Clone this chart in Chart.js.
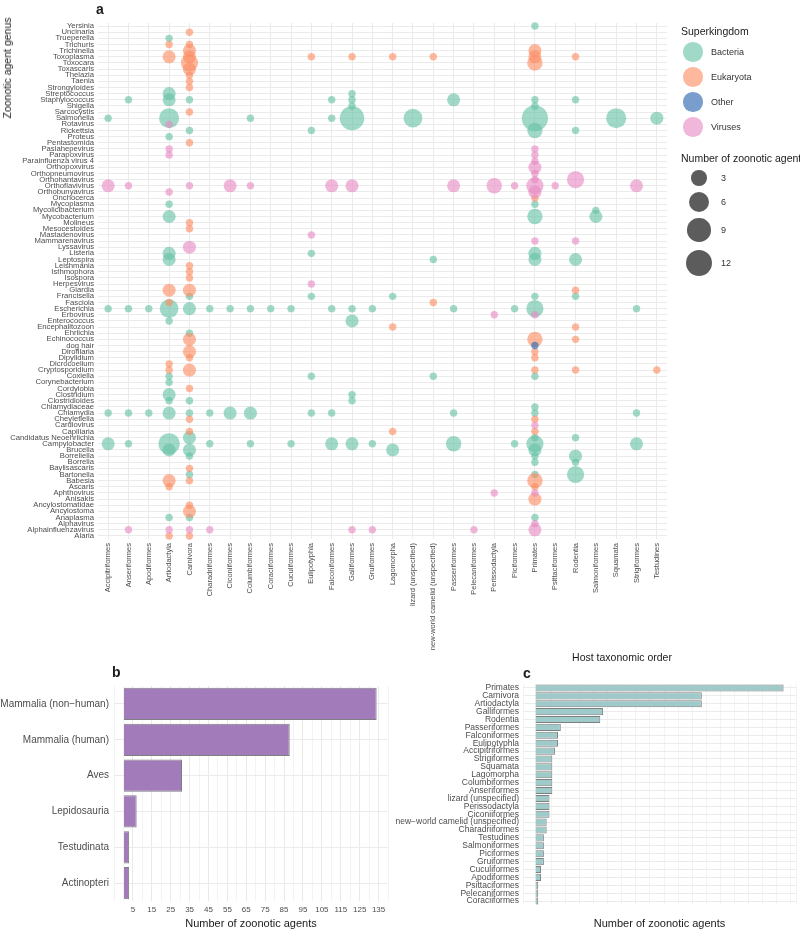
<!DOCTYPE html>
<html>
<head>
<meta charset="utf-8">
<script src="https://cdn.jsdelivr.net/npm/chart.js@4.4.1/dist/chart.umd.min.js"></script>
<style>
  body { margin: 0; background: #fff; font-family: "Liberation Sans", Arial, sans-serif; }
  #page { position: relative; width: 800px; height: 931px; overflow: hidden; }
  canvas { position: absolute; }
  #bubbles { left: 0px; top: 0px; }
  #classes { left: 0px; top: 640px; }
  #orders { left: 370px; top: 640px; }
  .txt { position: absolute; white-space: nowrap; color: #1a1a1a; }
  .dot { position: absolute; border-radius: 50%; }
</style>
</head>
<body>
<div id="page">
  <canvas id="bubbles" width="800" height="670"></canvas>
  <canvas id="classes" width="400" height="291"></canvas>
  <canvas id="orders" width="430" height="291"></canvas>
</div>
<script>
// ---- panel a ----
const genera = ["Yersinia", "Uncinaria", "Trueperella", "Trichuris", "Trichinella", "Toxoplasma", "Toxocara",
  "Toxascaris", "Thelazia", "Taenia", "Strongyloides", "Streptococcus", "Staphylococcus", "Shigella", "Sarcocystis",
  "Salmonella", "Rotavirus", "Rickettsia", "Proteus", "Pentastomida", "Paslahepevirus", "Parapoxvirus",
  "Parainfluenza virus 4", "Orthopoxvirus", "Orthopneumovirus", "Orthohantavirus", "Orthoflavivirus",
  "Orthobunyavirus", "Onchocerca", "Mycoplasma", "Mycolicibacterium", "Mycobacterium", "Molineus", "Mesocestoides",
  "Mastadenovirus", "Mammarenavirus", "Lyssavirus", "Listeria", "Leptospira", "Leishmania", "Isthmophora",
  "Isospora", "Herpesvirus", "Giardia", "Francisella", "Fasciola", "Escherichia", "Erbovirus", "Enterococcus",
  "Encephalitozoon", "Ehrlichia", "Echinococcus", "dog hair", "Dirofilaria", "Dipylidium", "Dicrocoelium",
  "Cryptosporidium", "Coxiella", "Corynebacterium", "Cordylobia", "Clostridium", "Clostridioides", "Chlamydiaceae",
  "Chlamydia", "Cheyletiella", "Cardiovirus", "Capillaria", "Candidatus Neoehrlichia", "Campylobacter", "Brucella",
  "Borreliella", "Borrelia", "Baylisascaris", "Bartonella", "Babesia", "Ascaris", "Aphthovirus", "Anisakis",
  "Ancylostomatidae", "Ancylostoma", "Anaplasma", "Alphavirus", "Alphainfluenzavirus", "Alaria"];

const hostOrders = ["Accipitriformes", "Anseriformes", "Apodiformes", "Artiodactyla", "Carnivora",
  "Charadriiformes", "Ciconiiformes", "Columbiformes", "Coraciiformes", "Cuculiformes", "Eulipotyphla",
  "Falconiformes", "Galliformes", "Gruiformes", "Lagomorpha", "lizard (unspecified)",
  "new-world camelid (unspecified)", "Passeriformes", "Pelecaniformes", "Perissodactyla", "Piciformes", "Primates",
  "Psittaciformes", "Rodentia", "Salmoniformes", "Squamata", "Strigiformes", "Testudines"];

// [genus, host order, number of zoonotic agents]
const bacteria = [
  ["Yersinia", "Primates", 1], ["Trueperella", "Artiodactyla", 1],
  ["Streptococcus", "Artiodactyla", 2], ["Streptococcus", "Galliformes", 1],
  ["Staphylococcus", "Anseriformes", 1], ["Staphylococcus", "Artiodactyla", 2], ["Staphylococcus", "Carnivora", 1],
  ["Staphylococcus", "Falconiformes", 1], ["Staphylococcus", "Galliformes", 1], ["Staphylococcus", "Passeriformes", 2],
  ["Staphylococcus", "Primates", 1], ["Staphylococcus", "Rodentia", 1],
  ["Shigella", "Galliformes", 1], ["Shigella", "Primates", 1],
  ["Salmonella", "Accipitriformes", 1], ["Salmonella", "Artiodactyla", 6], ["Salmonella", "Columbiformes", 1],
  ["Salmonella", "Falconiformes", 1], ["Salmonella", "Galliformes", 10], ["Salmonella", "lizard (unspecified)", 5],
  ["Salmonella", "Primates", 12], ["Salmonella", "Squamata", 6], ["Salmonella", "Testudines", 2],
  ["Rickettsia", "Carnivora", 1], ["Rickettsia", "Eulipotyphla", 1], ["Rickettsia", "Primates", 3], ["Rickettsia", "Rodentia", 1],
  ["Proteus", "Artiodactyla", 1],
  ["Mycoplasma", "Artiodactyla", 1], ["Mycoplasma", "Primates", 1],
  ["Mycolicibacterium", "Salmoniformes", 1],
  ["Mycobacterium", "Artiodactyla", 2], ["Mycobacterium", "Primates", 3], ["Mycobacterium", "Salmoniformes", 2],
  ["Listeria", "Artiodactyla", 2], ["Listeria", "Eulipotyphla", 1], ["Listeria", "Primates", 2],
  ["Leptospira", "Artiodactyla", 2], ["Leptospira", "new-world camelid (unspecified)", 1], ["Leptospira", "Primates", 2],
  ["Leptospira", "Rodentia", 2],
  ["Francisella", "Carnivora", 1], ["Francisella", "Eulipotyphla", 1], ["Francisella", "Lagomorpha", 1],
  ["Francisella", "Primates", 1], ["Francisella", "Rodentia", 1],
  ["Escherichia", "Accipitriformes", 1], ["Escherichia", "Anseriformes", 1], ["Escherichia", "Apodiformes", 1],
  ["Escherichia", "Artiodactyla", 5], ["Escherichia", "Carnivora", 2], ["Escherichia", "Charadriiformes", 1],
  ["Escherichia", "Ciconiiformes", 1], ["Escherichia", "Columbiformes", 1], ["Escherichia", "Coraciiformes", 1],
  ["Escherichia", "Cuculiformes", 1], ["Escherichia", "Falconiformes", 1], ["Escherichia", "Galliformes", 1],
  ["Escherichia", "Gruiformes", 1], ["Escherichia", "Passeriformes", 1], ["Escherichia", "Piciformes", 1],
  ["Escherichia", "Primates", 4], ["Escherichia", "Strigiformes", 1],
  ["Enterococcus", "Artiodactyla", 1], ["Enterococcus", "Galliformes", 2],
  ["Ehrlichia", "Carnivora", 1],
  ["Coxiella", "Artiodactyla", 1], ["Coxiella", "Eulipotyphla", 1], ["Coxiella", "new-world camelid (unspecified)", 1],
  ["Coxiella", "Primates", 1],
  ["Corynebacterium", "Artiodactyla", 1],
  ["Clostridium", "Artiodactyla", 2], ["Clostridium", "Galliformes", 1],
  ["Clostridioides", "Artiodactyla", 1], ["Clostridioides", "Carnivora", 1], ["Clostridioides", "Galliformes", 1],
  ["Chlamydiaceae", "Primates", 1],
  ["Chlamydia", "Accipitriformes", 1], ["Chlamydia", "Anseriformes", 1], ["Chlamydia", "Apodiformes", 1],
  ["Chlamydia", "Artiodactyla", 2], ["Chlamydia", "Carnivora", 1], ["Chlamydia", "Charadriiformes", 1],
  ["Chlamydia", "Ciconiiformes", 2], ["Chlamydia", "Columbiformes", 2], ["Chlamydia", "Eulipotyphla", 1],
  ["Chlamydia", "Falconiformes", 1], ["Chlamydia", "Passeriformes", 1], ["Chlamydia", "Primates", 1],
  ["Chlamydia", "Strigiformes", 1],
  ["Candidatus Neoehrlichia", "Carnivora", 2], ["Candidatus Neoehrlichia", "Primates", 1],
  ["Candidatus Neoehrlichia", "Rodentia", 1],
  ["Campylobacter", "Accipitriformes", 2], ["Campylobacter", "Anseriformes", 1], ["Campylobacter", "Artiodactyla", 7],
  ["Campylobacter", "Charadriiformes", 1], ["Campylobacter", "Columbiformes", 1], ["Campylobacter", "Cuculiformes", 1],
  ["Campylobacter", "Falconiformes", 2], ["Campylobacter", "Galliformes", 2], ["Campylobacter", "Gruiformes", 1],
  ["Campylobacter", "Passeriformes", 3], ["Campylobacter", "Piciformes", 1], ["Campylobacter", "Primates", 4],
  ["Campylobacter", "Strigiformes", 2],
  ["Brucella", "Artiodactyla", 2], ["Brucella", "Carnivora", 2], ["Brucella", "Lagomorpha", 2], ["Brucella", "Primates", 2],
  ["Borreliella", "Carnivora", 1], ["Borreliella", "Primates", 1], ["Borreliella", "Rodentia", 2],
  ["Borrelia", "Primates", 1], ["Borrelia", "Rodentia", 1],
  ["Bartonella", "Carnivora", 1], ["Bartonella", "Primates", 1], ["Bartonella", "Rodentia", 4],
  ["Anaplasma", "Artiodactyla", 1], ["Anaplasma", "Carnivora", 1], ["Anaplasma", "Primates", 1]
];

const eukaryota = [
  ["Uncinaria", "Carnivora", 1], ["Trichuris", "Artiodactyla", 1], ["Trichuris", "Carnivora", 1],
  ["Trichinella", "Carnivora", 2], ["Trichinella", "Primates", 2],
  ["Toxoplasma", "Artiodactyla", 2], ["Toxoplasma", "Carnivora", 2], ["Toxoplasma", "Eulipotyphla", 1],
  ["Toxoplasma", "Galliformes", 1], ["Toxoplasma", "Lagomorpha", 1], ["Toxoplasma", "new-world camelid (unspecified)", 1],
  ["Toxoplasma", "Primates", 2], ["Toxoplasma", "Rodentia", 1],
  ["Toxocara", "Carnivora", 4], ["Toxocara", "Primates", 3], ["Toxascaris", "Carnivora", 2],
  ["Thelazia", "Carnivora", 1], ["Taenia", "Carnivora", 1], ["Strongyloides", "Carnivora", 1],
  ["Sarcocystis", "Carnivora", 1], ["Pentastomida", "Carnivora", 1], ["Onchocerca", "Primates", 1],
  ["Molineus", "Carnivora", 1], ["Mesocestoides", "Carnivora", 1], ["Leishmania", "Carnivora", 1],
  ["Isthmophora", "Carnivora", 1], ["Isospora", "Carnivora", 1],
  ["Giardia", "Artiodactyla", 2], ["Giardia", "Carnivora", 2], ["Giardia", "Rodentia", 1],
  ["Fasciola", "Artiodactyla", 1], ["Fasciola", "new-world camelid (unspecified)", 1],
  ["Encephalitozoon", "Lagomorpha", 1], ["Encephalitozoon", "Rodentia", 1],
  ["Echinococcus", "Carnivora", 2], ["Echinococcus", "Primates", 3], ["Echinococcus", "Rodentia", 1],
  ["Dirofilaria", "Carnivora", 2], ["Dirofilaria", "Primates", 1],
  ["Dipylidium", "Carnivora", 1], ["Dipylidium", "Primates", 1], ["Dicrocoelium", "Artiodactyla", 1],
  ["Cryptosporidium", "Artiodactyla", 1], ["Cryptosporidium", "Carnivora", 2], ["Cryptosporidium", "Primates", 1],
  ["Cryptosporidium", "Rodentia", 1], ["Cryptosporidium", "Testudines", 1],
  ["Cordylobia", "Carnivora", 1], ["Cheyletiella", "Carnivora", 1], ["Cheyletiella", "Primates", 1],
  ["Capillaria", "Carnivora", 1], ["Capillaria", "Lagomorpha", 1], ["Capillaria", "Primates", 1],
  ["Baylisascaris", "Carnivora", 1],
  ["Babesia", "Artiodactyla", 2], ["Babesia", "Carnivora", 1], ["Babesia", "Primates", 3],
  ["Ascaris", "Artiodactyla", 1], ["Ascaris", "Primates", 1], ["Anisakis", "Primates", 2],
  ["Ancylostomatidae", "Carnivora", 1], ["Ancylostoma", "Carnivora", 2],
  ["Alaria", "Artiodactyla", 1], ["Alaria", "Carnivora", 1]
];

const other = [["dog hair", "Primates", 1]];

const viruses = [
  ["Rotavirus", "Artiodactyla", 1],
  ["Paslahepevirus", "Artiodactyla", 1], ["Paslahepevirus", "Primates", 1],
  ["Parapoxvirus", "Artiodactyla", 1], ["Parapoxvirus", "Primates", 1],
  ["Parainfluenza virus 4", "Primates", 1], ["Orthopoxvirus", "Primates", 2], ["Orthopneumovirus", "Primates", 1],
  ["Orthohantavirus", "Primates", 1], ["Orthohantavirus", "Rodentia", 4],
  ["Orthoflavivirus", "Accipitriformes", 2], ["Orthoflavivirus", "Anseriformes", 1], ["Orthoflavivirus", "Carnivora", 1],
  ["Orthoflavivirus", "Ciconiiformes", 2], ["Orthoflavivirus", "Columbiformes", 1], ["Orthoflavivirus", "Falconiformes", 2],
  ["Orthoflavivirus", "Galliformes", 2], ["Orthoflavivirus", "Passeriformes", 2], ["Orthoflavivirus", "Perissodactyla", 3],
  ["Orthoflavivirus", "Piciformes", 1], ["Orthoflavivirus", "Primates", 4], ["Orthoflavivirus", "Psittaciformes", 1],
  ["Orthoflavivirus", "Strigiformes", 2],
  ["Orthobunyavirus", "Artiodactyla", 1], ["Orthobunyavirus", "Primates", 2],
  ["Mastadenovirus", "Eulipotyphla", 1], ["Mammarenavirus", "Primates", 1], ["Mammarenavirus", "Rodentia", 1],
  ["Lyssavirus", "Carnivora", 2], ["Herpesvirus", "Eulipotyphla", 1],
  ["Erbovirus", "Perissodactyla", 1], ["Erbovirus", "Primates", 1], ["Cardiovirus", "Primates", 1],
  ["Aphthovirus", "Perissodactyla", 1], ["Aphthovirus", "Primates", 1], ["Alphavirus", "Primates", 1],
  ["Alphainfluenzavirus", "Anseriformes", 1], ["Alphainfluenzavirus", "Artiodactyla", 1],
  ["Alphainfluenzavirus", "Carnivora", 1], ["Alphainfluenzavirus", "Charadriiformes", 1],
  ["Alphainfluenzavirus", "Galliformes", 1], ["Alphainfluenzavirus", "Gruiformes", 1],
  ["Alphainfluenzavirus", "Pelecaniformes", 1], ["Alphainfluenzavirus", "Primates", 2]
];

const sizeBreaks = [3, 6, 9, 12];

// ---- panel b ----
const hostClasses = ["Mammalia (non\u2212human)", "Mammalia (human)", "Aves", "Lepidosauria", "Testudinata", "Actinopteri"];
const classCounts = [134, 88, 31, 7, 3, 3];

// ---- panel c ----
const orderNames = ["Primates", "Carnivora", "Artiodactyla", "Galliformes", "Rodentia", "Passeriformes",
  "Falconiformes", "Eulipotyphla", "Accipitriformes", "Strigiformes", "Squamata", "Lagomorpha", "Columbiformes",
  "Anseriformes", "lizard (unspecified)", "Perissodactyla", "Ciconiiformes", "new\u2212world camelid (unspecified)",
  "Charadriiformes", "Testudines", "Salmoniformes", "Piciformes", "Gruiformes", "Cuculiformes", "Apodiformes",
  "Psittaciformes", "Pelecaniformes", "Coraciiformes"];
const orderCounts = [88, 59, 59, 24, 23, 9, 8, 8, 7, 6, 6, 6, 6, 6, 5, 5, 5, 4, 4, 3, 3, 3, 3, 2, 2, 1, 1, 1];

Chart.defaults.font.family = '"Liberation Sans", Arial, sans-serif';
Chart.defaults.color = '#4d4d4d';

// area-like size scale, 1 agent -> smallest dot
function radiusOf(n) {
  return 3.7 + 2.83 * Math.sqrt(n - 1);
}
function toPoints(rows) {
  return rows.map(r => ({ x: r[1], y: r[0], n: r[2] }));
}
function kingdomSet(label, rows, color, order) {
  return {
    label: label,
    data: toPoints(rows),
    backgroundColor: color,
    borderWidth: 0,
    radius: ctx => radiusOf(ctx.raw.n),
    hoverRadius: 0,
    clip: false,
    order: order
  };
}

const kingdomColors = {
  Bacteria: 'rgba(102,194,165,0.62)',
  Eukaryota: 'rgba(252,141,98,0.62)',
  Other: 'rgba(58,110,180,0.68)',
  Viruses: 'rgba(231,138,195,0.62)'
};

new Chart(document.getElementById('bubbles'), {
  type: 'bubble',
  data: {
    datasets: [
      kingdomSet('Bacteria', bacteria, kingdomColors.Bacteria, 3),
      kingdomSet('Eukaryota', eukaryota, kingdomColors.Eukaryota, 2),
      kingdomSet('Other', other, kingdomColors.Other, 1),
      kingdomSet('Viruses', viruses, kingdomColors.Viruses, 0)
    ]
  },
  options: {
    responsive: false,
    animation: false,
    layout: { padding: { top: 23, right: 133, left: 0, bottom: 0 } },
    plugins: { legend: { display: false }, tooltip: { enabled: false } },
    scales: {
      x: {
        type: 'category',
        labels: hostOrders,
        offset: true,
        grid: { color: '#ebebeb', offset: false, drawTicks: false },
        border: { display: false },
        ticks: { autoSkip: false, minRotation: 90, maxRotation: 90, padding: 4, font: { size: 7.5 } },
        afterFit: s => { s.height = 131; }
      },
      y: {
        type: 'category',
        labels: genera,
        offset: true,
        grid: { color: '#ebebeb', offset: false, drawTicks: false },
        border: { display: false },
        ticks: { autoSkip: false, padding: 4, font: { size: 7.7 } },
        afterFit: s => { s.width = 98; }
      }
    }
  }
});

function countAxis(min, max, tickSize, extra) {
  return Object.assign({
    min: min,
    max: max,
    bounds: 'data',
    grid: {
      color: ctx => (ctx.tick && ctx.tick.value % 10 === 5 ? '#e9e9e9' : '#f3f3f3'),
      drawTicks: false
    },
    border: { display: false },
    ticks: {
      stepSize: 5,
      includeBounds: false,
      autoSkip: false,
      maxRotation: 0,
      padding: 4,
      font: { size: tickSize },
      callback: v => (v % 10 === 5 ? v : '')
    },
    title: { display: true, text: 'Number of zoonotic agents', color: '#1a1a1a', font: { size: 11 }, padding: 0 }
  }, extra);
}

new Chart(document.getElementById('classes'), {
  type: 'bar',
  data: {
    labels: hostClasses,
    datasets: [{
      data: classCounts,
      backgroundColor: '#a27cba',
      borderColor: '#7f7f7f',
      borderWidth: 1,
      barPercentage: 0.9,
      categoryPercentage: 1
    }]
  },
  options: {
    indexAxis: 'y',
    responsive: false,
    animation: false,
    layout: { padding: { top: 46, right: 12, left: 0, bottom: 0 } },
    plugins: { legend: { display: false }, tooltip: { enabled: false } },
    scales: {
      x: countAxis(-5, 140, 8, { afterFit: s => { s.height = 30; } }),
      y: {
        grid: { color: '#ebebeb', offset: false, drawTicks: false },
        border: { display: false },
        ticks: { padding: 5, font: { size: 10 } },
        afterFit: s => { s.width = 114; }
      }
    }
  }
});

new Chart(document.getElementById('orders'), {
  type: 'bar',
  data: {
    labels: orderNames,
    datasets: [{
      data: orderCounts,
      backgroundColor: '#9fcaca',
      borderColor: '#7f7f7f',
      borderWidth: 1,
      barPercentage: 0.9,
      categoryPercentage: 1
    }]
  },
  options: {
    indexAxis: 'y',
    responsive: false,
    animation: false,
    layout: { padding: { top: 44, right: 0, left: 0, bottom: 0 } },
    plugins: { legend: { display: false }, tooltip: { enabled: false } },
    scales: {
      x: countAxis(-4.4, 92.4, 7, { afterFit: s => { s.height = 26; } }),
      y: {
        grid: { color: '#ebebeb', offset: false, drawTicks: false },
        border: { display: false },
        ticks: { autoSkip: false, padding: 4, font: { size: 8.5 } },
        afterFit: s => { s.width = 153; }
      }
    }
  }
});

// text and legends around the charts
const page = document.getElementById('page');
function addText(text, x, y, css, anchor) {
  const d = document.createElement('div');
  d.className = 'txt';
  d.textContent = text;
  d.style.cssText += css;
  d.style.left = x + 'px';
  d.style.top = y + 'px';
  d.style.transform = anchor || 'translate(0,-50%)';
  page.appendChild(d);
}
function addDot(cx, cy, r, color) {
  const d = document.createElement('div');
  d.className = 'dot';
  d.style.left = (cx - r) + 'px';
  d.style.top = (cy - r) + 'px';
  d.style.width = d.style.height = (2 * r) + 'px';
  d.style.background = color;
  page.appendChild(d);
}

addText('a', 96, 9, 'font-weight:bold;font-size:14px;');
addText('b', 112, 672, 'font-weight:bold;font-size:14px;');
addText('c', 523, 673, 'font-weight:bold;font-size:14px;');
addText('Zoonotic agent genus', 7, 68, 'font-size:10.5px;', 'translate(-50%,-50%) rotate(-90deg)');
addText('Host taxonomic order', 622, 657, 'font-size:10.5px;', 'translate(-50%,-50%)');

addText('Superkingdom', 681, 31, 'font-size:10.5px;');
Object.keys(kingdomColors).forEach((k, i) => {
  addDot(693, 52 + i * 25, 9.7, kingdomColors[k]);
  addText(k, 711, 52 + i * 25, 'font-size:9px;color:#333;');
});
addText('Number of zoonotic agents', 681, 158, 'font-size:10.5px;');
const sizeY = [178, 202, 230, 263];
sizeBreaks.forEach((n, i) => {
  addDot(699, sizeY[i], radiusOf(n), 'rgba(0,0,0,0.64)');
  addText(String(n), 721, sizeY[i], 'font-size:9px;color:#333;');
});
</script>
</body>
</html>
